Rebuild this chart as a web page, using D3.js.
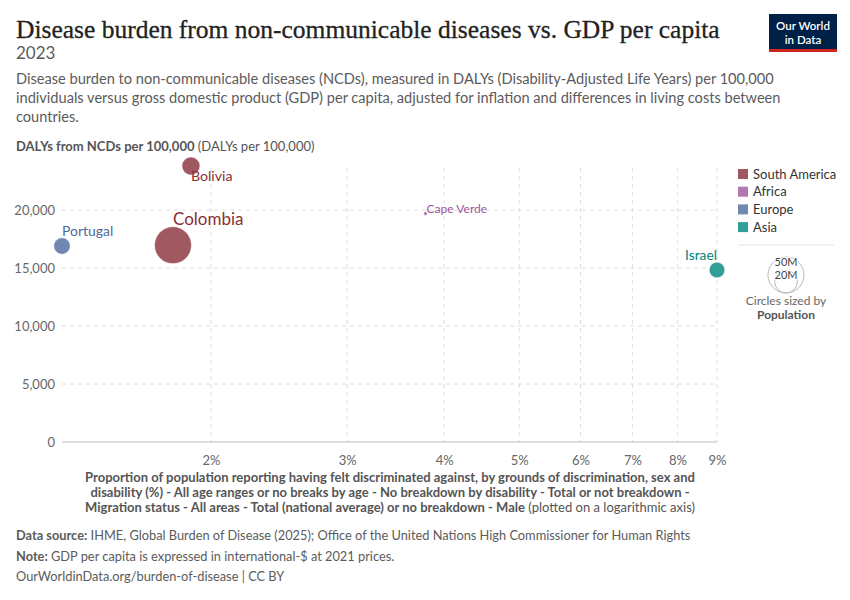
<!DOCTYPE html>
<html>
<head>
<meta charset="utf-8">
<script src="https://cdn.jsdelivr.net/npm/d3@7"></script>
<style>
  body { margin: 0; background: #fff; }
  text { font-family: Lato, "Noto Sans", sans-serif; }
</style>
</head>
<body>
<script>
// data (2023)
const countries  = ["Portugal", "Colombia", "Bolivia", "Cape Verde", "Israel"];
const continents = ["Europe", "South America", "South America", "Africa", "Asia"];
const discrim    = [1.285, 1.787, 1.885, 3.785, 9.0];      // % felt discriminated (male)
const dalys      = [16900, 16970, 23800, 19700, 14830];   // DALYs per 100,000
const population = [10.4e6, 52.3e6, 12.4e6, 0.52e6, 9.3e6];

const legendNames = ["South America", "Africa", "Europe", "Asia"];
const legendFill  = ["#a05961", "#b577b0", "#7088b0", "#339d98"];
const labelColor  = ["#883039", "#a2559c", "#4c6a9c", "#00847e"];

const xTicks = [2, 3, 4, 5, 6, 7, 8, 9];
const yTicks = [0, 5000, 10000, 15000, 20000];
const sizeTicks = [50e6, 20e6];

const W = 850, H = 600;
const svg = d3.select("body").append("svg")
              .attr("width", W).attr("height", H)

const grey = "#5b5b5b"

// header
svg.append("text").attr("x", 16).attr("y", 38)
   .attr("font-size", 25.5).attr("fill", "#222")
   .attr("stroke", "#222").attr("stroke-width", 0.3)
   .style("font-family", "'Liberation Serif', 'DejaVu Serif', serif")
   .text("Disease burden from non-communicable diseases vs. GDP per capita")
svg.append("text").attr("x", 16).attr("y", 59)
   .attr("font-size", 17).attr("fill", grey).text("2023")

const sub = [
  "Disease burden to non-communicable diseases (NCDs), measured in DALYs (Disability-Adjusted Life Years) per 100,000",
  "individuals versus gross domestic product (GDP) per capita, adjusted for inflation and differences in living costs between",
  "countries."
]
svg.append("g").selectAll("text").data(sub).enter().append("text")
   .attr("x", 16).attr("y", (d, i) => 84 + i * 19)
   .attr("font-size", 14.6).attr("fill", grey).text(d => d)

// logo
const logo = svg.append("g").attr("transform", "translate(769,14)")
logo.append("rect").attr("width", 68).attr("height", 38).attr("fill", "#002147")
logo.append("rect").attr("y", 35).attr("width", 68).attr("height", 3).attr("fill", "#ce261e")
logo.append("text").attr("x", 34).attr("y", 16).attr("text-anchor", "middle")
    .attr("fill", "#fff").attr("font-size", 11.5).attr("font-weight", 600).text("Our World")
logo.append("text").attr("x", 34).attr("y", 30).attr("text-anchor", "middle")
    .attr("fill", "#fff").attr("font-size", 11.5).attr("font-weight", 600).text("in Data")

// y axis title
const yt = svg.append("text").attr("x", 16).attr("y", 151).attr("font-size", 13).attr("fill", "#555")
yt.append("tspan").attr("font-weight", 700).text("DALYs from NCDs per 100,000")
yt.append("tspan").text(" (DALYs per 100,000)")

// scales
const pLeft = 62, pRight = 717, pTop = 166, pBottom = 442

const xscale = d3.scaleLog()
                 .domain(d3.extent(discrim))
                 .range([pLeft, pRight])
const yscale = d3.scaleLinear()
                 .domain([0, d3.max(dalys)])
                 .range([pBottom, pTop])
const rscale = d3.scaleSqrt()
                 .domain([0, 50e6])
                 .range([0, 18])
const color = d3.scaleOrdinal().domain(legendNames).range(legendFill)
const tcolor = d3.scaleOrdinal().domain(legendNames).range(labelColor)

// grid
const grid = svg.append("g")
grid.selectAll(".vx").data(xTicks).enter().append("line")
    .attr("x1", d => xscale(d)).attr("x2", d => xscale(d))
    .attr("y1", pTop + 2).attr("y2", pBottom)
    .attr("stroke", "#ddd").attr("stroke-dasharray", "4,4")
grid.selectAll(".hy").data(yTicks.filter(d => d > 0)).enter().append("line")
    .attr("x1", pLeft).attr("x2", pRight)
    .attr("y1", d => yscale(d)).attr("y2", d => yscale(d))
    .attr("stroke", "#ddd").attr("stroke-dasharray", "4,4")

// axes
const yaxis = svg.append("g").attr("transform", `translate(${pLeft},0)`)
                 .call(d3.axisLeft(yscale).tickValues(yTicks).tickFormat(d3.format(",")).tickSize(0).tickPadding(7))
yaxis.select(".domain").remove()
yaxis.selectAll("text").attr("font-size", 13).attr("fill", "#666").style("font-family", "Lato")

svg.append("line").attr("x1", pLeft).attr("x2", pRight)
   .attr("y1", pBottom).attr("y2", pBottom).attr("stroke", "#bbb")

const xaxis = svg.append("g").attr("transform", `translate(0,${pBottom})`)
                 .call(d3.axisBottom(xscale).tickValues(xTicks).tickFormat(d => d + "%").tickSize(0).tickPadding(14))
xaxis.select(".domain").remove()
xaxis.selectAll("text").attr("font-size", 13).attr("fill", "#666").style("font-family", "Lato")

// x axis title
const xt = [
  [["Proportion of population reporting having felt discriminated against, by grounds of discrimination, sex and", 700]],
  [["disability (%) - All age ranges or no breaks by age - No breakdown by disability - Total or not breakdown -", 700]],
  [["Migration status - All areas - Total (national average) or no breakdown - Male", 700], [" (plotted on a logarithmic axis)", 400]]
]
xt.forEach((line, i) => {
  const t = svg.append("text").attr("x", 390).attr("y", 482 + i * 15)
               .attr("text-anchor", "middle").attr("font-size", 13).attr("fill", "#555")
  line.forEach(p => t.append("tspan").attr("font-weight", p[1]).text(p[0]))
})

// bubbles
const data = countries.map((c, i) => ({
  name: c, cont: continents[i], x: discrim[i], y: dalys[i], pop: population[i]
}))

const bub = svg.append("g")
bub.selectAll("circle")
   .data(data.slice().sort((a, b) => b.pop - a.pop))
   .enter().append("circle")
   .attr("cx", d => xscale(d.x)).attr("cy", d => yscale(d.y))
   .attr("r", d => rscale(d.pop))
   .attr("fill", d => color(d.cont))
   .attr("stroke", "#fff").attr("stroke-width", 0.4)

// labels
bub.selectAll("text").data(data).enter().append("text")
   .attr("font-size", d => Math.min(17, 11.5 + rscale(d.pop) * 0.3))
   .attr("fill", d => tcolor(d.cont))
   .attr("text-anchor", d => d.name == "Israel" ? "end" : "start")
   .attr("x", d => xscale(d.x) + (d.name == "Cape Verde" ? 1 : 0))
   .attr("y", d => {
     const r = rscale(d.pop), cy = yscale(d.y)
     if (d.name == "Bolivia") return cy + 15
     if (d.name == "Cape Verde") return cy - 1
     return cy - r - 2
   })
   .text(d => d.name)

// legend
const lg = svg.append("g").attr("transform", "translate(738,169)")
legendNames.forEach((n, i) => {
  lg.append("rect").attr("x", 0).attr("y", i * 17.7).attr("width", 10).attr("height", 10)
    .attr("fill", legendFill[i])
  lg.append("text").attr("x", 15).attr("y", i * 17.7 + 9.5)
    .attr("font-size", 13).attr("fill", "#333").text(n)
})
svg.append("line").attr("x1", 738).attr("x2", 834).attr("y1", 245).attr("y2", 245)
   .attr("stroke", "#e6e6e6")

const sz = svg.append("g").attr("transform", "translate(786,293)")
sz.selectAll("circle").data(sizeTicks).enter().append("circle")
  .attr("cx", 0).attr("cy", d => -rscale(d)).attr("r", d => rscale(d))
  .attr("fill", "none").attr("stroke", "#bbb").attr("stroke-width", 1)
sz.selectAll("text").data(sizeTicks).enter().append("text")
  .attr("x", 0).attr("y", d => -2 * rscale(d) + 9)
  .attr("text-anchor", "middle").attr("font-size", 11).attr("fill", "#444")
  .attr("stroke", "#fff").attr("stroke-width", 2).attr("paint-order", "stroke")
  .text(d => d3.format(".0s")(d))
svg.append("text").attr("x", 786).attr("y", 305).attr("text-anchor", "middle")
   .attr("font-size", 12).attr("fill", "#666").text("Circles sized by")
svg.append("text").attr("x", 786).attr("y", 319).attr("text-anchor", "middle")
   .attr("font-size", 12).attr("font-weight", 700).attr("fill", "#555").text("Population")

// footer
const foot = [
  ["Data source:", " IHME, Global Burden of Disease (2025); Office of the United Nations High Commissioner for Human Rights"],
  ["Note:", " GDP per capita is expressed in international-$ at 2021 prices."],
  ["", "OurWorldinData.org/burden-of-disease | CC BY"]
]
foot.forEach((f, i) => {
  const t = svg.append("text").attr("x", 16).attr("y", 540 + i * 20.5)
               .attr("font-size", 12.8).attr("fill", grey)
  t.append("tspan").attr("font-weight", 700).text(f[0])
  t.append("tspan").text(f[1])
})
</script>
</body>
</html>
